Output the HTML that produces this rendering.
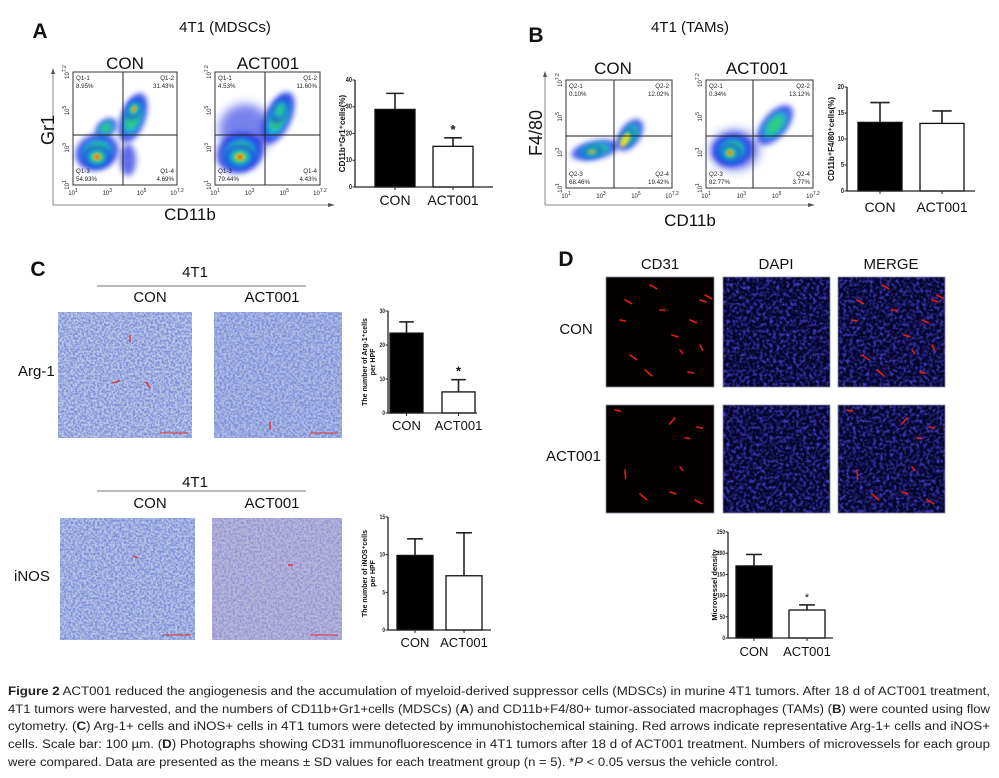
<!DOCTYPE html>
<html><head><meta charset="utf-8"><style>
html,body{margin:0;padding:0;background:#fff;}
svg{display:block;font-family:"Liberation Sans",Arial,sans-serif;}
</style></head><body>
<svg id="fig" width="999" height="778" viewBox="0 0 999 778" xmlns="http://www.w3.org/2000/svg">
<defs>
<filter id="blur3" x="-50%" y="-50%" width="200%" height="200%"><feGaussianBlur stdDeviation="3"/></filter>
<filter id="blur2" x="-50%" y="-50%" width="200%" height="200%"><feGaussianBlur stdDeviation="1.6"/></filter>
<filter id="blur5" x="-50%" y="-50%" width="200%" height="200%"><feGaussianBlur stdDeviation="5"/></filter>
<filter id="histo" x="0" y="0" width="100%" height="100%">
 <feTurbulence type="fractalNoise" baseFrequency="0.45" numOctaves="2" seed="3"/>
 <feColorMatrix type="matrix" values="0 0 0 0 0.2  0 0 0 0 0.28  0 0 0 0 0.7  0 0 0 -3 1.95"/>
</filter>
<filter id="histo2" x="0" y="0" width="100%" height="100%">
 <feTurbulence type="fractalNoise" baseFrequency="0.45" numOctaves="2" seed="7"/>
 <feColorMatrix type="matrix" values="0 0 0 0 0.3  0 0 0 0 0.3  0 0 0 0 0.65  0 0 0 -3 1.9"/>
</filter>
<filter id="dapi" x="0" y="0" width="100%" height="100%">
 <feTurbulence type="fractalNoise" baseFrequency="0.3" numOctaves="2" seed="11"/>
 <feColorMatrix type="matrix" values="0 0 0 0 0.05  0 0 0 0 0.05  0 0 0 0 0.6  0 0 0 -2.5 1.45"/>
</filter>
</defs>
<g id="root"></g>
</svg>
<script>
// ---------- chart data ----------
const catsA = ["CON","ACT001"];
const valsA = [29, 15.2];
const errA = [6, 3.2];
const ticksA = [0,10,20,30,40];

const catsB = ["CON","ACT001"];
const valsB = [13.2, 13];
const errB = [3.8, 2.4];
const ticksB = [0,5,10,15,20];

const catsC1 = ["CON","ACT001"];
const valsC1 = [23.5, 6.2];
const errC1 = [3.3, 3.6];
const ticksC1 = [0,10,20,30];

const catsC2 = ["CON","ACT001"];
const valsC2 = [9.9, 7.2];
const errC2 = [2.2, 5.7];
const ticksC2 = [0,5,10,15];

const catsD = ["CON","ACT001"];
const valsD = [170, 66];
const errD = [27, 12];
const ticksD = [0,50,100,150,200,250];

const quadA_con = ["Q1-1","8.95%","Q1-2","31.43%","Q1-3","54.93%","Q1-4","4.69%"];
const quadA_act = ["Q1-1","4.53%","Q1-2","11.60%","Q1-3","79.44%","Q1-4","4.43%"];
const quadB_con = ["Q2-1","0.10%","Q2-2","12.02%","Q2-3","68.46%","Q2-4","19.42%"];
const quadB_act = ["Q2-1","0.34%","Q2-2","13.12%","Q2-3","82.77%","Q2-4","3.77%"];

const NS = "http://www.w3.org/2000/svg";
const root = document.getElementById('root');
function mk(tag, attrs, parent, txt){
  const e = document.createElementNS(NS, tag);
  for (const k in attrs) e.setAttribute(k, attrs[k]);
  if (txt !== undefined) e.textContent = txt;
  (parent||root).appendChild(e);
  return e;
}
function label(x,y,t,size,name,extra){
  const a = Object.assign({x:x,y:y,'font-size':size,'text-anchor':'middle',fill:'#111'}, extra||{});
  const e = mk('text', a, null, t);
  
  
  return e;
}

// ---------- bar chart ----------
function barChart(name, cats, vals, errs, ticks, g){
  const grp = mk('g', {});
  
  
  const max = ticks[ticks.length-1];
  const y = v => g.yBot - (v/max)*(g.yBot-g.yTop);
  const xEnd = g.ax + g.off + (cats.length-1)*g.step + g.bw + g.off;
  const ya = mk('line',{x1:g.ax,y1:g.yTop,x2:g.ax,y2:g.yBot,stroke:'#222','stroke-width':1.3},grp);
  
  
  ticks.forEach(t=>{
    mk('line',{x1:g.ax-2.5,y1:y(t),x2:g.ax,y2:y(t),stroke:'#222','stroke-width':1},grp);
    const tl = mk('text',{x:g.ax-3,y:y(t)+2,'font-size':g.tick,'text-anchor':'end',fill:'#222','font-weight':'bold','transform':`scale(0.8,1)`,'transform-origin':`${g.ax-3} ${y(t)}`},grp,String(t));
    
    
  });
  cats.forEach((c,i)=>{
    const bx = g.ax + g.off + i*g.step;
    const cx = bx + g.bw/2;
    const top = y(vals[i]);
    const et = y(vals[i]+errs[i]);
    const eline = mk('line',{x1:cx,y1:top,x2:cx,y2:et,stroke:'#222','stroke-width':1.6},grp);
    
    
    mk('line',{x1:cx-g.bw*0.22,y1:et,x2:cx+g.bw*0.22,y2:et,stroke:'#222','stroke-width':1.6},grp);
    const r = mk('rect',{x:bx,y:top,width:g.bw,height:g.yBot-top,fill:i===0?'#000':'#fff',stroke:'#111','stroke-width':1.3},grp);
    
    
    mk('line',{x1:cx,y1:g.yBot,x2:cx,y2:g.yBot+3,stroke:'#222','stroke-width':1},grp);
    const cl = mk('text',{x:cx,y:g.labY,'font-size':g.cat,'text-anchor':'middle',fill:'#111'},grp,c);
    
    
    if (g.star && g.star[i]){
      const st = mk('text',{x:cx,y:et-4,'font-size':g.starSize||13,'text-anchor':'middle',fill:'#111','font-weight':g.starW||'bold'},grp,'*');
      
      
    }
  });
  const xa = mk('line',{x1:g.ax,y1:g.yBot,x2:xEnd,y2:g.yBot,stroke:'#222','stroke-width':1.3},grp);
  
  
  const yl = mk('text',{x:g.ylx,y:(g.yTop+g.yBot)/2,'font-size':g.ylSize,'text-anchor':'middle','font-weight':'bold',fill:'#111',transform:`rotate(-90 ${g.ylx} ${(g.yTop+g.yBot)/2})`},grp);
  
  
  g.yl.forEach((line,k)=>{
    mk('tspan',{x:g.ylx,dy:k===0?(g.yl.length>1?-2:0):g.ylSize+1},yl,line);
  });
}

// ---------- flow plot ----------
function flowPlot(name, x0,y0,x1,y1,gx,gy,quad,blobs){
  const grp = mk('g',{});
  
  
  const cg = mk('g',{},grp);
  blobs.forEach(b=>{
    mk('ellipse',{cx:b[0],cy:b[1],rx:b[2],ry:b[3],fill:b[4],filter:'url(#'+(b[6]||'blur3')+')',transform:`rotate(${b[5]||0} ${b[0]} ${b[1]})`,opacity:b[7]||1},cg);
  });
  mk('rect',{x:x0,y:y0,width:x1-x0,height:y1-y0,fill:'none',stroke:'#333','stroke-width':1},grp);
  mk('line',{x1:gx,y1:y0,x2:gx,y2:y1,stroke:'#222','stroke-width':1},grp);
  mk('line',{x1:x0,y1:gy,x2:x1,y2:gy,stroke:'#222','stroke-width':1},grp);
  const fs=6.2;
  const q=[[x0+3,y0+8,'start'],[x1-3,y0+8,'end'],[x0+3,y1-12,'start'],[x1-3,y1-12,'end']];
  for(let i=0;i<4;i++){
    const t1=mk('text',{x:q[i][0],y:q[i][1],'font-size':fs,'text-anchor':q[i][2],fill:'#222'},grp,quad[i*2]);
    
    
    const t2=mk('text',{x:q[i][0],y:q[i][1]+8,'font-size':fs,'text-anchor':q[i][2],fill:'#222'},grp,quad[i*2+1]);
    
    
  }
  const w=x1-x0,h=y1-y0;
  const xt=[[0,'10','1'],[0.33,'10','3'],[0.66,'10','5'],[1,'10','7.2']];
  xt.forEach(t=>{
    const e=mk('text',{x:x0+t[0]*w,y:y1+10,'font-size':6,'text-anchor':'middle',fill:'#222'},grp);
    
    
    mk('tspan',{},e,t[1]); mk('tspan',{dy:-3,'font-size':5},e,t[2]);
  });
  xt.forEach(t=>{
    const yy=y1-t[0]*h, xx=x0-4;
    const e=mk('text',{x:xx,y:yy,'font-size':6,'text-anchor':'middle',fill:'#222',transform:`rotate(-90 ${xx} ${yy})`},grp);
    
    
    mk('tspan',{},e,t[1]); mk('tspan',{dy:-3,'font-size':5},e,t[2]);
  });
}
function pop(cx,cy,sx,sy,rot,core){
  const arr=[
    [cx,cy,sx,sy,'#1c2fe0',rot,'blur3',0.8],
    [cx,cy,sx*0.7,sy*0.7,'#19b6e8',rot,'blur3',0.9],
    [cx,cy,sx*0.48,sy*0.48,'#2fd07a',rot,'blur3',1],
  ];
  if(core){
    arr.push([cx,cy,sx*0.3,sy*0.3,'#f2e22a',rot,'blur2',1]);
    arr.push([cx,cy,sx*0.16,sy*0.16,'#e81e10',rot,'blur2',1]);
  }
  return arr;
}

// ---------- Panel A ----------
label(40,38,'A',21,'panel-label-a',{'font-weight':'bold'});
label(225,32,'4T1 (MDSCs)',15,'panel-a-title');
label(125,69,'CON',17,'plot-title-con');
label(268,69,'ACT001',17,'plot-title-act001');
mk('line',{x1:53,y1:205,x2:53,y2:72,stroke:'#888','stroke-width':1});
mk('polygon',{points:'51,74 53,68 55,74',fill:'#555'});
mk('line',{x1:53,y1:205,x2:330,y2:205,stroke:'#888','stroke-width':1});
mk('polygon',{points:'328,203 335,205 328,207',fill:'#555'});
label(48,130,'Gr1',18,'y-axis-title-gr1',{transform:'rotate(-90 48 130)'}).setAttribute('dy','6');
label(190,220,'CD11b',17,'x-axis-title-cd11b');
flowPlot('flow-plot-a-con',73,72,177,185,123,135,quadA_con,
  [].concat(pop(97,152,22,18,-20,false),pop(106,128,12,8,-40,false),pop(133,118,12,26,20,false),
    pop(97,157,14,11,0,true),pop(134,109,7,11,25,true),[[128,160,8,16,'#1c2fe0',0,'blur3',0.7]]));
flowPlot('flow-plot-a-act001',215,72,320,185,265,135,quadA_act,
  [].concat([[245,130,26,26,'#1c2fe0',0,'blur5',0.6]],pop(240,153,24,20,-20,false),pop(278,118,13,28,25,false),
    pop(240,157,16,12,0,true),pop(280,110,7,14,25,false)));
barChart('bar-chart-a',catsA,valsA,errA,ticksA,{ax:355,yTop:80,yBot:187,off:20,bw:40,step:58,tick:7,cat:14,labY:205,ylx:345,ylSize:8,yl:['CD11b\u207aGr1\u207acells(%)'],star:[false,true]});

// ---------- Panel B ----------
label(536,42,'B',21,'panel-label-b',{'font-weight':'bold'});
label(690,32,'4T1 (TAMs)',15,'panel-b-title');
label(613,74,'CON',17,'plot-title-con');
label(757,74,'ACT001',17,'plot-title-act001');
mk('line',{x1:545,y1:205,x2:545,y2:75,stroke:'#888','stroke-width':1});
mk('polygon',{points:'543,77 545,71 547,77',fill:'#555'});
mk('line',{x1:545,y1:205,x2:810,y2:205,stroke:'#888','stroke-width':1});
mk('polygon',{points:'808,203 815,205 808,207',fill:'#555'});
label(536,133,'F4/80',18,'y-axis-title-f480',{transform:'rotate(-90 536 133)'}).setAttribute('dy','6');
label(690,226,'CD11b',17,'x-axis-title-cd11b');
flowPlot('flow-plot-b-con',566,80,672,188,614,136,quadB_con,
  [].concat(pop(595,150,24,9,-12,false),pop(630,135,10,18,35,false),
    pop(592,152,11,5,-12,true),pop(628,137,5,9,30,false),[[625,140,4,8,'#f2e22a',30,'blur2',0.9]]));
flowPlot('flow-plot-b-act001',706,80,813,188,753,136,quadB_act,
  [].concat([[735,150,24,20,'#1c2fe0',0,'blur5',0.6]],pop(732,150,20,16,-10,false),pop(775,125,12,24,40,false),
    pop(730,153,11,9,0,true)));
barChart('bar-chart-b',catsB,valsB,errB,ticksB,{ax:847,yTop:87,yBot:191,off:11,bw:44,step:62,tick:7,cat:14,labY:212,ylx:834,ylSize:8,yl:['CD11b\u207aF4/80\u207acells(%)'],star:[false,false]});

// ---------- Panel C ----------
label(38,276,'C',21,'panel-label-c',{'font-weight':'bold'});
label(195,277,'4T1',15,'panel-c-group-label');
mk('line',{x1:97,y1:286,x2:306,y2:286,stroke:'#777','stroke-width':1});
label(150,302,'CON',15,'column-label-con');
label(272,302,'ACT001',15,'column-label-act001');
label(195,487,'4T1',15,'panel-c-group-label-2');
mk('line',{x1:97,y1:491,x2:306,y2:491,stroke:'#777','stroke-width':1});
label(150,508,'CON',15,'column-label-con-2');
label(272,508,'ACT001',15,'column-label-act001-2');
label(18,376,'Arg-1',15,'row-label-arg1',{'text-anchor':'start'});
label(14,581,'iNOS',15,'row-label-inos',{'text-anchor':'start'});
function histo(name,x,y,w,h,filt,base){
  const g=mk('g',{});
  
  
  mk('rect',{x:x,y:y,width:w,height:h,fill:base},g);
  mk('rect',{x:x,y:y,width:w,height:h,fill:'#000',filter:'url(#'+filt+')'},g);
  mk('line',{x1:x+w-32,y1:y+h-5,x2:x+w-4,y2:y+h-5,stroke:'#d33','stroke-width':1},g);
}
histo('ihc-arg1-con',58,312,134,126,'histo','#bcc6e4');
histo('ihc-arg1-act001',214,312,128,126,'histo','#b2bde4');
histo('ihc-inos-con',60,518,135,122,'histo','#b8c3e4');
histo('ihc-inos-act001',212,518,130,122,'histo2','#b8b6da');
[[130,342,130,335],[112,383,120,381],[146,382,150,388],[270,430,270,422],[133,556,138,558],[288,565,293,565]].forEach(a=>{
  const l=mk('line',{x1:a[0],y1:a[1],x2:a[2],y2:a[3],stroke:'#e03030','stroke-width':1.4});
  
  
});
barChart('bar-chart-arg1',catsC1,valsC1,errC1,ticksC1,{ax:388,yTop:311,yBot:413,off:2,bw:33,step:52,tick:6,cat:13,labY:430,ylx:369,ylSize:7,yl:['The number of Arg-1\u207acells','per HPF'],star:[false,true]});
barChart('bar-chart-inos',catsC2,valsC2,errC2,ticksC2,{ax:388,yTop:517,yBot:630,off:9,bw:36,step:49,tick:6,cat:13,labY:647,ylx:369,ylSize:7,yl:['The number of iNOS\u207acells','per HPF'],star:[false,false]});

// ---------- Panel D ----------
label(566,266,'D',21,'panel-label-d',{'font-weight':'bold'});
label(660,269,'CD31',15,'column-label-cd31');
label(776,269,'DAPI',15,'column-label-dapi');
label(891,269,'MERGE',15,'column-label-merge');
label(576,334,'CON',15,'row-label-con');
label(601,461,'ACT001',15,'row-label-act001',{'text-anchor':'end'});
const vesselsCon=[[650,285,0.5],[700,300,0.3],[680,350,0.9],[672,335,0.3],[690,320,0.4],[630,355,0.6],[620,320,0.2],[645,370,0.7],[705,295,0.5],[660,310,0.1],[700,345,1.1],[625,300,0.5],[688,372,0.2]];
const vesselsAct=[[675,418,2.3],[685,438,0.1],[625,470,1.5],[640,494,0.7],[670,492,0.3],[697,427,0.2],[680,467,0.9],[615,410,0.2],[695,500,0.5]];
function fluo(name,x,y,w,h,kind,ves){
  const g=mk('g',{});
  
  
  mk('rect',{x:x,y:y,width:w,height:h,fill:kind==='red'?'#050000':'#05042a'},g);
  if(kind!=='red') mk('rect',{x:x,y:y,width:w,height:h,fill:'#000',filter:'url(#dapi)'},g);
  if(kind!=='blue'){
    ves.forEach(v=>{
      const vx=x+(v[0]-606), vy=y+(v[1]-(ves===vesselsCon?277:405));
      const len=4+((v[2]*7)%6);
      mk('line',{x1:vx,y1:vy,x2:vx+Math.cos(v[2])*len,y2:vy+Math.sin(v[2])*len,stroke:'#e02010','stroke-width':1.6,'stroke-linecap':'round'},g);
    });
  }
  mk('rect',{x:x,y:y,width:w,height:h,fill:'none',stroke:'#8a8aa0','stroke-width':0.8},g);
}
fluo('if-con-cd31',606,277,108,110,'red',vesselsCon);
fluo('if-con-dapi',723,277,107,110,'blue',vesselsCon);
fluo('if-con-merge',838,277,107,110,'merge',vesselsCon);
fluo('if-act001-cd31',606,405,108,108,'red',vesselsAct);
fluo('if-act001-dapi',723,405,107,108,'blue',vesselsAct);
fluo('if-act001-merge',838,405,107,108,'merge',vesselsAct);
barChart('bar-chart-microvessel',catsD,valsD,errD,ticksD,{ax:728,yTop:532,yBot:638,off:8,bw:36,step:53,tick:6,cat:13,labY:656,ylx:717,ylSize:7.5,yl:['Microvessel density'],star:[false,true],starSize:11,starW:'normal'});

// ---------- Caption ----------
const cap = mk('g',{});


const lines=[
 [695,[['Figure 2','bold'],[' ACT001 reduced the angiogenesis and the accumulation of myeloid-derived suppressor cells (MDSCs) in murine 4T1 tumors. After 18 d of ACT001 treatment,','normal']],982],
 [713,[['4T1 tumors were harvested, and the numbers of CD11b+Gr1+cells (MDSCs) (','normal'],['A','bold'],[') and CD11b+F4/80+ tumor-associated macrophages (TAMs) (','normal'],['B','bold'],[') were counted using flow','normal']],982],
 [730,[['cytometry. (','normal'],['C','bold'],[') Arg-1+ cells and iNOS+ cells in 4T1 tumors were detected by immunohistochemical staining. Red arrows indicate representative Arg-1+ cells and iNOS+','normal']],982],
 [748,[['cells. Scale bar: 100 \u00b5m. (','normal'],['D','bold'],[') Photographs showing CD31 immunofluorescence in 4T1 tumors after 18 d of ACT001 treatment. Numbers of microvessels for each group','normal']],982],
 [766,[['were compared. Data are presented as the means \u00b1 SD values for each treatment group (n = 5). *','normal'],['P','italic'],[' < 0.05 versus the vehicle control.','normal']],770]
];
lines.forEach(l=>{
  const t=mk('text',{x:8,y:l[0],'font-size':11.5,fill:'#222'},cap);
  l[1].forEach(s=>{
    const a={};
    if(s[1]==='bold')a['font-weight']='bold';
    if(s[1]==='italic')a['font-style']='italic';
    mk('tspan',a,t,s[0]);
  });
  t.setAttribute('textLength', l[2]);
  t.setAttribute('lengthAdjust','spacingAndGlyphs');
});
</script>
</body></html>
